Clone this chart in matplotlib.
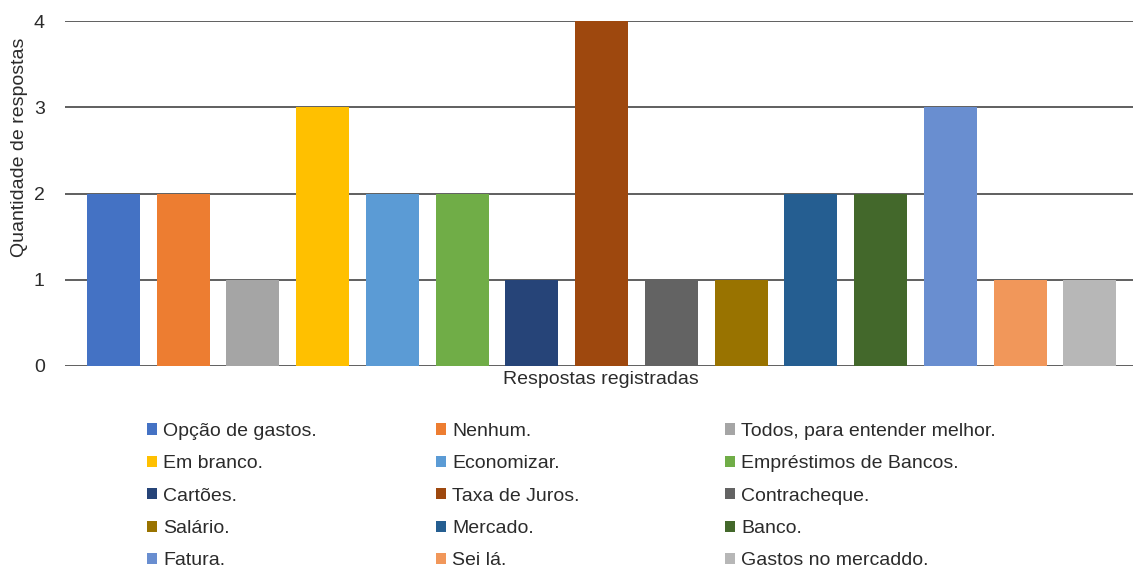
import matplotlib
matplotlib.use("Agg")
import matplotlib.pyplot as plt
from matplotlib.patches import Patch

plt.rcParams['font.family'] = ['Liberation Sans', 'DejaVu Sans']

categories = ["Opção de gastos.", "Nenhum.", "Todos, para entender melhor.",
              "Em branco.", "Economizar.", "Empréstimos de Bancos.",
              "Cartões.", "Taxa de Juros.", "Contracheque.",
              "Salário.", "Mercado.", "Banco.",
              "Fatura.", "Sei lá.", "Gastos no mercaddo."]
values = [2, 2, 1, 3, 2, 2, 1, 4, 1, 1, 2, 2, 3, 1, 1]
colors = ["#4472C4", "#ED7D31", "#A5A5A5", "#FFC000", "#5B9BD5", "#70AD47",
          "#264478", "#9E480E", "#636363", "#997300", "#255E91", "#43682B",
          "#698ED0", "#F1975A", "#B7B7B7"]
yticks = [0, 1, 2, 3, 4]

W, H = 1133, 572
FS = 14
TXT = "#2b2b2b"
fig = plt.figure(figsize=(W / 100, H / 100), dpi=100)
ax = fig.add_axes([65 / W, (H - 366) / H, 1 - 65 / W, (366 - 21) / H])

x = list(range(len(values)))
ax.bar(x, values, width=0.76, color=colors, zorder=3)
ax.set_xlim(-0.695, len(values) - 1 + 0.62)
ax.set_ylim(0, 4)
ax.set_yticks(yticks)
ax.set_yticklabels([str(t) for t in yticks], fontsize=FS, color=TXT)
ax.set_xticks([])
ax.tick_params(axis='y', length=0, pad=14.5)
for s in ax.spines.values():
    s.set_visible(False)
ax.yaxis.grid(True, color="#444444", linewidth=1.2, zorder=0)
ax.set_axisbelow(True)

fig.text(601 / W, 1 - 380 / H, "Respostas registradas", ha='center', va='center',
         fontsize=FS, color=TXT)
fig.text(20 / W, 1 - 147 / H, "Quantidade de respostas", ha='center', va='center',
         rotation=90, fontsize=FS, color=TXT)

handles = [Patch(facecolor=c, edgecolor='none') for c in colors]
col_x = [147, 436, 725]
for j in range(3):
    hs = [handles[i * 3 + j] for i in range(5)]
    ls = [categories[i * 3 + j] for i in range(5)]
    fig.legend(hs, ls, loc='upper left', bbox_to_anchor=(col_x[j] / W, 1 - 423 / H),
               frameon=False, fontsize=FS, handlelength=0.52, handleheight=0.52,
               handletextpad=0.3, labelspacing=0.79, borderaxespad=0, borderpad=0,
               labelcolor=TXT)

fig.savefig("out.png", dpi=100, facecolor="white")
